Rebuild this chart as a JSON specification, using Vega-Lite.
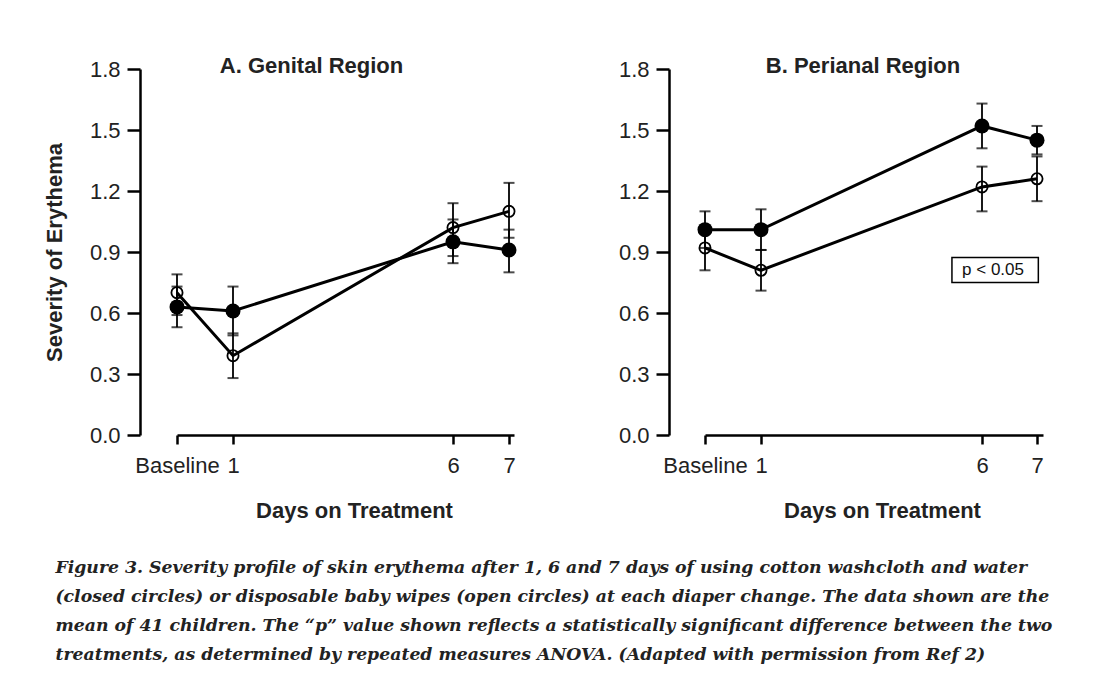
{
  "$schema": "https://vega.github.io/schema/vega-lite/v6.json",
  "background": "white",
  "padding": {"left": 43, "top": 55, "right": 5, "bottom": 5},
  "datasets": {
    "erythema": [
      {"panel": "A", "day": 0, "group": "closed", "mean": 0.63, "lo": 0.53, "hi": 0.73},
      {"panel": "A", "day": 1, "group": "closed", "mean": 0.61, "lo": 0.49, "hi": 0.73},
      {"panel": "A", "day": 6, "group": "closed", "mean": 0.95, "lo": 0.845, "hi": 1.06},
      {"panel": "A", "day": 7, "group": "closed", "mean": 0.91, "lo": 0.80, "hi": 1.01},
      {"panel": "A", "day": 0, "group": "open", "mean": 0.70, "lo": 0.59, "hi": 0.79},
      {"panel": "A", "day": 1, "group": "open", "mean": 0.39, "lo": 0.28, "hi": 0.50},
      {"panel": "A", "day": 6, "group": "open", "mean": 1.02, "lo": 0.88, "hi": 1.14},
      {"panel": "A", "day": 7, "group": "open", "mean": 1.10, "lo": 0.97, "hi": 1.24},
      {"panel": "B", "day": 0, "group": "closed", "mean": 1.01, "lo": 0.92, "hi": 1.10},
      {"panel": "B", "day": 1, "group": "closed", "mean": 1.01, "lo": 0.91, "hi": 1.11},
      {"panel": "B", "day": 6, "group": "closed", "mean": 1.52, "lo": 1.41, "hi": 1.63},
      {"panel": "B", "day": 7, "group": "closed", "mean": 1.45, "lo": 1.38, "hi": 1.52},
      {"panel": "B", "day": 0, "group": "open", "mean": 0.92, "lo": 0.81, "hi": 1.02},
      {"panel": "B", "day": 1, "group": "open", "mean": 0.81, "lo": 0.71, "hi": 0.91},
      {"panel": "B", "day": 6, "group": "open", "mean": 1.22, "lo": 1.10, "hi": 1.32},
      {"panel": "B", "day": 7, "group": "open", "mean": 1.26, "lo": 1.15, "hi": 1.37}
    ]
  },
  "title": {
    "text": [
      "Figure 3. Severity profile of skin erythema after 1, 6 and 7 days of using cotton washcloth and water",
      "(closed circles) or disposable baby wipes (open circles) at each diaper change. The data shown are the",
      "mean of 41 children. The “p” value shown reflects a statistically significant difference between the two",
      "treatments, as determined by repeated measures ANOVA. (Adapted with permission from Ref 2)"
    ],
    "orient": "bottom",
    "anchor": "start",
    "frame": "bounds",
    "font": "DejaVu Serif",
    "fontStyle": "italic",
    "fontWeight": "bold",
    "fontSize": 17.3,
    "lineHeight": 29,
    "color": "#222222",
    "offset": 38,
    "dx": 12
  },
  "bounds": "flush",
  "spacing": 191,
  "hconcat": [
    {
      "data": {"name": "erythema"},
      "width": 337,
      "height": 366,
      "title": {"text": "A. Genital Region", "anchor": "middle", "dx": -34, "offset": -20},
      "transform": [{"filter": "datum.panel == 'A'"}],
      "encoding": {
        "x": {
          "field": "day", "type": "quantitative",
          "scale": {"type": "linear", "domain": [0, 1, 6, 7, 7.09], "range": [0, 56, 276, 332, 337], "nice": false, "zero": false},
          "axis": {"values": [0, 1, 6, 7], "labelExpr": "datum.value == 0 ? 'Baseline' : datum.label", "labelFlush": false, "labelOverlap": false, "tickSize": 9, "labelPadding": 11, "title": "Days on Treatment", "titlePadding": 24, "titleX": 177}
        }
      },
      "layer": [
        {"mark": {"type": "rule", "color": "black", "strokeWidth": 1.8},
         "encoding": {"y": {"field": "lo", "type": "quantitative", "scale": {"domain": [0, 1.8], "nice": false, "zero": true},
                             "axis": {"values": [0, 0.3, 0.6, 0.9, 1.2, 1.5, 1.8], "format": ".1f", "offset": 37, "title": "Severity of Erythema", "titlePadding": 23, "labelPadding": 7}},
                      "y2": {"field": "hi"}}},
        {"mark": {"type": "tick", "orient": "horizontal", "color": "black", "size": 11, "thickness": 2}, "encoding": {"y": {"field": "lo", "type": "quantitative"}}},
        {"mark": {"type": "tick", "orient": "horizontal", "color": "black", "size": 11, "thickness": 2}, "encoding": {"y": {"field": "hi", "type": "quantitative"}}},
        {"mark": {"type": "line", "color": "black", "strokeWidth": 3}, "encoding": {"y": {"field": "mean", "type": "quantitative"}, "detail": {"field": "group"}}},
        {"transform": [{"filter": "datum.group == 'closed'"}], "mark": {"type": "point", "shape": "circle", "filled": true, "color": "black", "size": 225, "opacity": 1}, "encoding": {"y": {"field": "mean", "type": "quantitative"}}},
        {"transform": [{"filter": "datum.group == 'open'"}], "mark": {"type": "point", "shape": "circle", "filled": false, "color": "black", "size": 125, "strokeWidth": 1.8, "opacity": 1}, "encoding": {"y": {"field": "mean", "type": "quantitative"}}}
      ]
    },
    {
      "data": {"name": "erythema"},
      "width": 338,
      "height": 366,
      "title": {"text": "B. Perianal Region", "anchor": "middle", "dx": -11, "offset": -20},
      "transform": [{"filter": "datum.panel == 'B'"}],
      "encoding": {
        "x": {
          "field": "day", "type": "quantitative",
          "scale": {"type": "linear", "domain": [0, 1, 6, 7, 7.09], "range": [0, 56, 277, 332, 338], "nice": false, "zero": false},
          "axis": {"values": [0, 1, 6, 7], "labelExpr": "datum.value == 0 ? 'Baseline' : datum.label", "labelFlush": false, "labelOverlap": false, "tickSize": 9, "labelPadding": 11, "title": "Days on Treatment", "titlePadding": 24, "titleX": 177}
        }
      },
      "layer": [
        {"mark": {"type": "rule", "color": "black", "strokeWidth": 1.8},
         "encoding": {"y": {"field": "lo", "type": "quantitative", "scale": {"domain": [0, 1.8], "nice": false, "zero": true},
                             "axis": {"values": [0, 0.3, 0.6, 0.9, 1.2, 1.5, 1.8], "format": ".1f", "offset": 36, "title": null, "labelPadding": 7}},
                      "y2": {"field": "hi"}}},
        {"mark": {"type": "tick", "orient": "horizontal", "color": "black", "size": 11, "thickness": 2}, "encoding": {"y": {"field": "lo", "type": "quantitative"}}},
        {"mark": {"type": "tick", "orient": "horizontal", "color": "black", "size": 11, "thickness": 2}, "encoding": {"y": {"field": "hi", "type": "quantitative"}}},
        {"mark": {"type": "line", "color": "black", "strokeWidth": 3}, "encoding": {"y": {"field": "mean", "type": "quantitative"}, "detail": {"field": "group"}}},
        {"transform": [{"filter": "datum.group == 'closed'"}], "mark": {"type": "point", "shape": "circle", "filled": true, "color": "black", "size": 225, "opacity": 1}, "encoding": {"y": {"field": "mean", "type": "quantitative"}}},
        {"transform": [{"filter": "datum.group == 'open'"}], "mark": {"type": "point", "shape": "circle", "filled": false, "color": "black", "size": 125, "strokeWidth": 1.8, "opacity": 1}, "encoding": {"y": {"field": "mean", "type": "quantitative"}}},
        {"transform": [{"filter": "datum.day == 0 && datum.group == 'closed'"}],
         "mark": {"type": "rect", "fill": "white", "stroke": "black", "strokeWidth": 1.5},
         "encoding": {"x": {"datum": 5.32, "type": "quantitative"}, "x2": {"datum": 7.02}, "y": {"datum": 0.873, "type": "quantitative"}, "y2": {"datum": 0.75}}},
        {"transform": [{"filter": "datum.day == 0 && datum.group == 'closed'"}],
         "mark": {"type": "text", "font": "Liberation Sans", "fontSize": 17, "color": "#111111", "align": "center", "baseline": "middle"},
         "encoding": {"x": {"datum": 6.2, "type": "quantitative"}, "y": {"datum": 0.812, "type": "quantitative"}, "text": {"value": "p < 0.05"}}}
      ]
    }
  ],
  "config": {
    "view": {"stroke": null},
    "font": "Liberation Sans",
    "title": {"font": "Liberation Sans", "fontSize": 22, "fontWeight": "bold", "color": "#222222"},
    "axis": {
      "grid": false,
      "domainColor": "black", "domainWidth": 2.5,
      "tickColor": "black", "tickWidth": 2.5, "tickSize": 13,
      "labelFont": "Liberation Sans", "labelFontSize": 22, "labelColor": "#222222",
      "titleFont": "Liberation Sans", "titleFontSize": 22, "titleFontWeight": "bold", "titleColor": "#222222"
    }
  }
}
